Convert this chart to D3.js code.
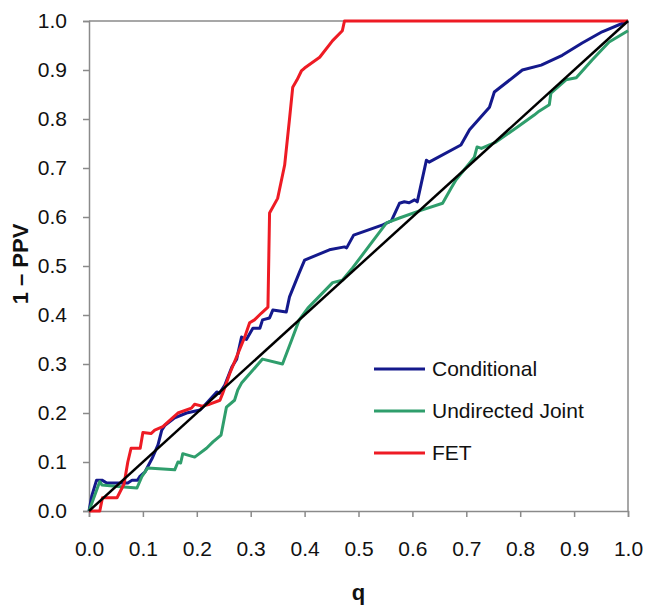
<!DOCTYPE html>
<html>
<head>
<meta charset="utf-8">
<script src="https://cdn.jsdelivr.net/npm/d3@7"></script>
<style>
  body { margin: 0; background: #fff; }
  text { font-family: Arial, "Liberation Sans", sans-serif; fill: #111; }
</style>
</head>
<body>
<div id="chart"></div>
<script>
// Curves: [q, 1 - PPV]
const conditional = [
  [0, 0], [0.005, 0.03], [0.014, 0.063], [0.024, 0.063], [0.033, 0.057], [0.072, 0.057],
  [0.08, 0.063], [0.09, 0.063], [0.094, 0.07], [0.104, 0.08], [0.117, 0.107], [0.128, 0.135],
  [0.135, 0.165], [0.141, 0.175], [0.159, 0.19], [0.181, 0.2], [0.206, 0.206], [0.218, 0.22],
  [0.237, 0.243], [0.242, 0.24], [0.252, 0.257], [0.265, 0.294], [0.274, 0.31], [0.283, 0.355],
  [0.292, 0.35], [0.304, 0.373], [0.317, 0.373], [0.322, 0.39], [0.335, 0.394], [0.341, 0.41],
  [0.366, 0.406], [0.372, 0.437], [0.39, 0.486], [0.4, 0.512], [0.446, 0.533], [0.474, 0.539],
  [0.478, 0.537], [0.491, 0.563], [0.545, 0.584], [0.561, 0.592], [0.576, 0.628], [0.585, 0.631],
  [0.594, 0.629], [0.604, 0.635], [0.609, 0.631], [0.626, 0.716], [0.631, 0.712], [0.69, 0.747],
  [0.706, 0.778], [0.743, 0.824], [0.752, 0.855], [0.804, 0.9], [0.839, 0.91], [0.878, 0.93],
  [0.915, 0.955], [0.952, 0.978], [1, 1]
];

const undirectedJoint = [
  [0, 0], [0.02, 0.06], [0.024, 0.053], [0.054, 0.05], [0.089, 0.047], [0.098, 0.07],
  [0.109, 0.088], [0.159, 0.084], [0.165, 0.1], [0.17, 0.098], [0.174, 0.117], [0.196, 0.11],
  [0.218, 0.128], [0.23, 0.141], [0.245, 0.155], [0.255, 0.212], [0.27, 0.226], [0.276, 0.247],
  [0.283, 0.261], [0.322, 0.31], [0.359, 0.3], [0.376, 0.349], [0.39, 0.39], [0.406, 0.414],
  [0.452, 0.466], [0.47, 0.471], [0.489, 0.496], [0.517, 0.537], [0.552, 0.588], [0.576, 0.598],
  [0.617, 0.614], [0.656, 0.628], [0.672, 0.659], [0.681, 0.676], [0.715, 0.722], [0.72, 0.743],
  [0.728, 0.74], [0.755, 0.753], [0.793, 0.782], [0.826, 0.808], [0.835, 0.816], [0.854, 0.829],
  [0.857, 0.853], [0.885, 0.88], [0.904, 0.884], [0.933, 0.92], [0.95, 0.94], [0.965, 0.957],
  [1, 0.98]
];

const fet = [
  [0, 0], [0.02, 0], [0.025, 0.027], [0.052, 0.027], [0.065, 0.055], [0.072, 0.1],
  [0.078, 0.128], [0.095, 0.128], [0.1, 0.16], [0.115, 0.158], [0.122, 0.165], [0.137, 0.172],
  [0.155, 0.19], [0.165, 0.2], [0.19, 0.21], [0.196, 0.218], [0.21, 0.214], [0.224, 0.218],
  [0.243, 0.226], [0.248, 0.24], [0.261, 0.28], [0.274, 0.315], [0.289, 0.355], [0.298, 0.384],
  [0.307, 0.39], [0.32, 0.404], [0.332, 0.416], [0.335, 0.608], [0.35, 0.638], [0.363, 0.706],
  [0.372, 0.8], [0.378, 0.865], [0.386, 0.88], [0.394, 0.898], [0.4, 0.904], [0.428, 0.926],
  [0.452, 0.96], [0.47, 0.98], [0.474, 1], [1, 1]
];

const diagonal = [[0, 0], [1, 1]];

const seriesNames = ['Conditional', 'Undirected Joint', 'FET'];
const seriesColors = ['#14198c', '#2f9e6c', '#ee1b24'];
const tickValues = [0, 0.1, 0.2, 0.3, 0.4, 0.5, 0.6, 0.7, 0.8, 0.9, 1.0];

const margin = { top: 21, right: 18, bottom: 98, left: 89 };
const width = 646 - margin.left - margin.right;
const height = 609 - margin.top - margin.bottom;

const svg = d3.select('#chart')
  .append('svg')
  .attr('width', 646)
  .attr('height', 609)
  .append('g')
  .attr('transform', `translate(${margin.left},${margin.top})`);

const x = d3.scaleLinear().domain([0, 1]).range([0, width]);
const y = d3.scaleLinear().domain([0, 1]).range([height, 0]);

// frame (top and right)
svg.append('path')
  .attr('d', `M0,0H${width}V${height}`)
  .attr('fill', 'none')
  .attr('stroke', '#8a8a8a')
  .attr('stroke-width', 1.5);

// axes
const xAxis = svg.append('g')
  .attr('transform', `translate(0,${height})`)
  .call(d3.axisBottom(x).tickValues(tickValues).tickFormat(d3.format('.1f')).tickSize(6).tickPadding(24));

const yAxis = svg.append('g')
  .call(d3.axisLeft(y).tickValues(tickValues).tickFormat(d3.format('.1f')).tickSize(6).tickPadding(16));

[xAxis, yAxis].forEach(a => {
  a.select('.domain').attr('stroke', '#8a8a8a').attr('stroke-width', 1.5);
  a.selectAll('.tick line').attr('stroke', '#8a8a8a').attr('stroke-width', 1.5);
  a.selectAll('.tick text')
    .style('font-family', 'Arial, "Liberation Sans", sans-serif')
    .style('font-size', '21px')
    .attr('fill', '#1a1a1a');
});

const line = d3.line().x(d => x(d[0])).y(d => y(d[1]));

// data lines
const allSeries = [conditional, undirectedJoint, fet];
svg.selectAll('.series')
  .data(allSeries)
  .enter()
  .append('path')
  .attr('class', 'series')
  .attr('d', line)
  .attr('fill', 'none')
  .attr('stroke', (d, i) => seriesColors[i])
  .attr('stroke-width', 3)
  .attr('stroke-linejoin', 'round');

svg.append('path')
  .datum(diagonal)
  .attr('d', line)
  .attr('fill', 'none')
  .attr('stroke', '#000')
  .attr('stroke-width', 2.5);

// legend
const legend = svg.append('g')
  .attr('transform', `translate(${374 - margin.left},${369 - margin.top})`);

const item = legend.selectAll('.item')
  .data(seriesNames)
  .enter()
  .append('g')
  .attr('transform', (d, i) => `translate(0,${i * 42})`);

item.append('line')
  .attr('x1', 0).attr('x2', 51)
  .attr('stroke', (d, i) => seriesColors[i])
  .attr('stroke-width', 3);

item.append('text')
  .attr('x', 58)
  .attr('dy', '0.35em')
  .style('font-size', '21px')
  .text(d => d);

// axis titles
svg.append('text')
  .attr('x', width / 2)
  .attr('y', 600 - margin.top)
  .attr('text-anchor', 'middle')
  .style('font-size', '22px')
  .style('font-weight', 'bold')
  .text('q');

svg.append('text')
  .attr('transform', `translate(${28 - margin.left},${264 - margin.top}) rotate(-90)`)
  .attr('text-anchor', 'middle')
  .style('font-size', '22px')
  .style('font-weight', 'bold')
  .text('1 – PPV');
</script>
</body>
</html>
